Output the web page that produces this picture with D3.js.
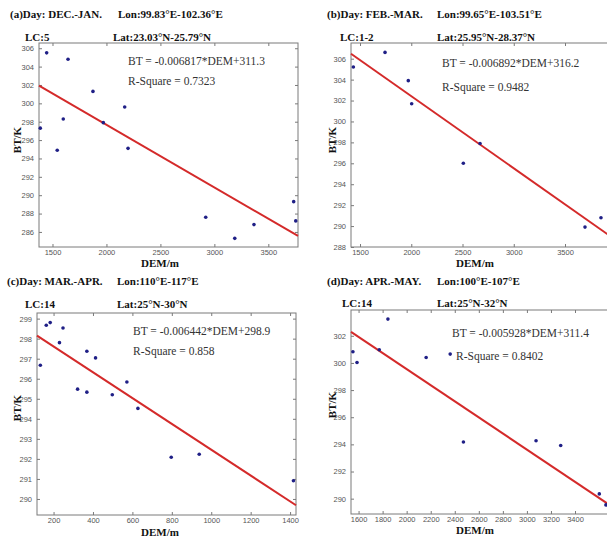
<!DOCTYPE html>
<html>
<head>
<meta charset="utf-8">
<script src="https://cdn.jsdelivr.net/npm/d3@7"></script>
<style>
  body { margin: 0; background: #fff; }
</style>
</head>
<body>
<div id="chart"></div>
<script>
// panel texts
var titles = ["(a)Day: DEC.-JAN.", "(b)Day: FEB.-MAR.", "(c)Day: MAR.-APR.", "(d)Day: APR.-MAY."];
var lonLabels = ["Lon:99.83°E-102.36°E", "Lon:99.65°E-103.51°E", "Lon:110°E-117°E", "Lon:100°E-107°E"];
var lcLabels = ["LC:5", "LC:1-2", "LC:14", "LC:14"];
var latLabels = ["Lat:23.03°N-25.79°N", "Lat:25.95°N-28.37°N", "Lat:25°N-30°N", "Lat:25°N-32°N"];
var equations = ["BT = -0.006817*DEM+311.3", "BT = -0.006892*DEM+316.2", "BT = -0.006442*DEM+298.9", "BT = -0.005928*DEM+311.4"];
var rSquares = ["R-Square = 0.7323", "R-Square = 0.9482", "R-Square = 0.858", "R-Square = 0.8402"];
var slopes = [-0.006817, -0.006892, -0.006442, -0.005928];
var intercepts = [311.3, 316.2, 298.9, 311.4];

// scatter points, DEM (m) and BT (K)
var demA = [1446, 1644, 1875, 2169, 1600, 1971, 1387, 1544, 2200, 2920, 3189, 3367, 3735, 3754];
var btA  = [305.5, 304.8, 301.3, 299.6, 298.3, 297.9, 297.3, 294.9, 295.1, 287.6, 285.3, 286.8, 289.3, 287.2];
var demB = [1435, 1744, 1971, 2004, 2671, 2508, 3695, 3851];
var btB  = [305.2, 306.6, 303.9, 301.7, 297.9, 296.0, 289.9, 290.8];
var demC = [133, 163, 183, 248, 230, 369, 413, 322, 369, 498, 572, 628, 797, 939, 1417];
var btC  = [296.67, 298.67, 298.8, 298.53, 297.8, 297.37, 297.04, 295.48, 295.33, 295.2, 295.84, 294.52, 292.08, 292.23, 290.91];
var demD = [1844, 1553, 1587, 1772, 2162, 2362, 2472, 3076, 3281, 3602, 3657];
var btD  = [303.23, 300.82, 300.03, 300.97, 300.4, 300.65, 294.17, 294.27, 293.92, 290.35, 289.54];

// axis limits and ticks
var xLimits = [[1375, 3775], [1412, 3939], [116, 1430], [1537, 3691]];
var yLimits = [[284.36, 306.57], [288, 307.5], [289.2, 299.28], [288.87, 303.9]];
var xTicks = [[1500, 2000, 2500, 3000, 3500], [1500, 2000, 2500, 3000, 3500],
              [200, 400, 600, 800, 1000, 1200, 1400],
              [1600, 1800, 2000, 2200, 2400, 2600, 2800, 3000, 3200, 3400]];
var yTicks = [[286, 288, 290, 292, 294, 296, 298, 300, 302, 304, 306],
              [288, 290, 292, 294, 296, 298, 300, 302, 304, 306],
              [290, 291, 292, 293, 294, 295, 296, 297, 298, 299],
              [290, 292, 294, 296, 298, 300, 302]];

var demData = [demA, demB, demC, demD];
var btData = [btA, btB, btC, btD];

// layout of each panel (pixels)
var panels = [
  {left: 39, top: 43, right: 298, bottom: 247, titleX: 10, titleY: 18, lonX: 118, lcX: 25, latX: 113, lcY: 41,
   eqX: 128, eqY: 65, rY: 85, rX: 128, yLabX: 17, yLabY: 140, xLabX: 160, xLabY: 267},
  {left: 351, top: 43, right: 610, bottom: 247, titleX: 327, titleY: 18, lonX: 437, lcX: 340, latX: 437, lcY: 41,
   eqX: 442, eqY: 66.5, rY: 90.5, rX: 442, yLabX: 332, yLabY: 140, xLabX: 475, xLabY: 267},
  {left: 37, top: 313, right: 296, bottom: 515, titleX: 7, titleY: 285, lonX: 117, lcX: 25, latX: 117, lcY: 308,
   eqX: 133, eqY: 335, rY: 355, rX: 133, yLabX: 17, yLabY: 408, xLabX: 160, xLabY: 535.5},
  {left: 351, top: 310, right: 610, bottom: 514, titleX: 327, titleY: 285, lonX: 437, lcX: 342, latX: 437, lcY: 307,
   eqX: 452, eqY: 336.5, rY: 360, rX: 456, yLabX: 332, yLabY: 405, xLabX: 475, xLabY: 534}
];

var svg = d3.select("#chart")
  .append("svg")
    .attr("width", 607)
    .attr("height", 537)
    .style("display", "block");

var serifBold = function(sel) {
  return sel.attr("font-family", "'Liberation Serif', 'Times New Roman', serif")
    .attr("font-weight", "bold")
    .attr("font-size", "11px")
    .attr("fill", "#111");
};
var serif = function(sel) {
  return sel.attr("font-family", "'Liberation Serif', 'Times New Roman', serif")
    .attr("font-size", "11.5px")
    .attr("fill", "#333");
};

panels.forEach(function(p, i) {
  var w = p.right - p.left,
      h = p.bottom - p.top;

  var x = d3.scaleLinear().domain(xLimits[i]).range([0, w]);
  var y = d3.scaleLinear().domain(yLimits[i]).range([h, 0]);

  // headings
  svg.append("text").attr("x", p.titleX).attr("y", p.titleY).text(titles[i]).call(serifBold);
  svg.append("text").attr("x", p.lonX).attr("y", p.titleY).text(lonLabels[i]).call(serifBold);
  svg.append("text").attr("x", p.lcX).attr("y", p.lcY).text(lcLabels[i]).call(serifBold);
  svg.append("text").attr("x", p.latX).attr("y", p.lcY).text(latLabels[i]).call(serifBold);

  var g = svg.append("g")
    .attr("transform", "translate(" + p.left + "," + p.top + ")");

  // box
  g.append("rect")
    .attr("width", w)
    .attr("height", h)
    .attr("fill", "#fff")
    .attr("stroke", "#7a7a7a")
    .attr("stroke-width", 1);

  // axes, ticks pointing inward on all four sides
  var fmt = d3.format("d");
  g.append("g")
    .attr("transform", "translate(0," + h + ")")
    .call(d3.axisBottom(x).tickValues(xTicks[i]).tickFormat(fmt).tickSizeInner(-3).tickSizeOuter(0).tickPadding(3));
  g.append("g")
    .call(d3.axisTop(x).tickValues(xTicks[i]).tickSizeInner(-3).tickSizeOuter(0).tickFormat(""));
  g.append("g")
    .call(d3.axisLeft(y).tickValues(yTicks[i]).tickFormat(fmt).tickSizeInner(-3).tickSizeOuter(0).tickPadding(5));
  g.append("g")
    .attr("transform", "translate(" + w + ",0)")
    .call(d3.axisRight(y).tickValues(yTicks[i]).tickSizeInner(-3).tickSizeOuter(0).tickFormat(""));

  g.selectAll(".domain").remove();
  g.selectAll(".tick line").attr("stroke", "#7a7a7a");
  g.selectAll(".tick text")
    .attr("font-family", "'Liberation Sans', Arial, sans-serif")
    .attr("font-size", "7.5px")
    .attr("fill", "#555");

  // fitted line
  var line = d3.line()
    .x(function(d) { return x(d); })
    .y(function(d) { return y(slopes[i] * d + intercepts[i]); });
  g.append("path")
    .datum(xLimits[i])
    .attr("d", line)
    .attr("fill", "none")
    .attr("stroke", "#d42a2a")
    .attr("stroke-width", 2);

  // scatter
  g.selectAll("circle.pt")
    .data(demData[i])
    .enter().append("circle")
      .attr("class", "pt")
      .attr("cx", function(d) { return x(d); })
      .attr("cy", function(d, j) { return y(btData[i][j]); })
      .attr("r", 1.8)
      .attr("fill", "#1f1f86");

  // equation text
  svg.append("text").attr("x", p.eqX).attr("y", p.eqY).text(equations[i]).call(serif);
  svg.append("text").attr("x", p.rX).attr("y", p.rY).text(rSquares[i]).call(serif);

  // axis titles
  svg.append("text")
    .attr("transform", "translate(" + p.yLabX + "," + p.yLabY + ") rotate(-90)")
    .attr("text-anchor", "middle")
    .attr("dy", "0.35em")
    .text("BT/K")
    .call(serifBold);
  svg.append("text")
    .attr("x", p.xLabX)
    .attr("y", p.xLabY)
    .attr("text-anchor", "middle")
    .text("DEM/m")
    .call(serifBold);
});
</script>
</body>
</html>
